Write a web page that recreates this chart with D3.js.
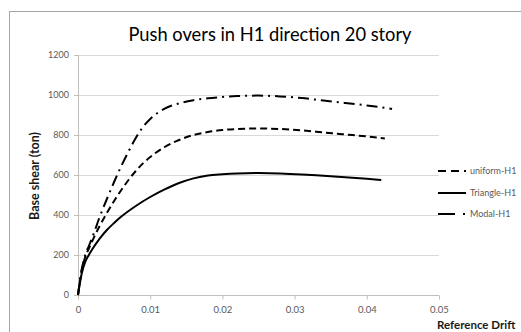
<!DOCTYPE html>
<html>
<head>
<meta charset="utf-8">
<script src="https://cdn.jsdelivr.net/npm/d3@7"></script>
<style>
  html, body { margin: 0; padding: 0; background: #fff; }
  svg { display: block; }
</style>
</head>
<body>
<svg id="chart" width="521" height="332"></svg>
<script>
// Pushover curves: drift vs base shear (ton)
const uniformDrift = [0, 0.0005, 0.001, 0.0015, 0.002, 0.003, 0.004, 0.005, 0.006, 0.007, 0.008, 0.009, 0.01, 0.012, 0.014, 0.016, 0.018, 0.02, 0.022, 0.025, 0.028, 0.031, 0.034, 0.037, 0.040, 0.0425];
const uniformShear = [0, 120, 190, 232, 272, 345, 410, 470, 525, 575, 620, 658, 690, 740, 775, 800, 815, 825, 830, 833, 830, 823, 813, 803, 793, 783];

const triangleDrift = [0, 0.0005, 0.001, 0.0015, 0.002, 0.003, 0.004, 0.005, 0.006, 0.008, 0.01, 0.012, 0.014, 0.016, 0.018, 0.02, 0.022, 0.025, 0.028, 0.031, 0.034, 0.037, 0.040, 0.042];
const triangleShear = [0, 105, 165, 200, 230, 282, 325, 360, 392, 445, 490, 528, 560, 583, 598, 604, 608, 610, 608, 603, 596, 589, 581, 575];

const modalDrift = [0, 0.0005, 0.001, 0.0015, 0.002, 0.003, 0.004, 0.005, 0.006, 0.007, 0.008, 0.009, 0.01, 0.011, 0.012, 0.014, 0.016, 0.018, 0.02, 0.022, 0.025, 0.028, 0.031, 0.034, 0.037, 0.040, 0.0435];
const modalShear = [0, 125, 200, 245, 290, 390, 480, 565, 645, 718, 785, 840, 880, 910, 932, 958, 974, 984, 990, 995, 997, 993, 985, 972, 960, 948, 930];

const seriesNames = ["uniform-H1", "Triangle-H1", "Modal-H1"];
const xTicks = [0, 0.01, 0.02, 0.03, 0.04, 0.05];
const xTickLabels = ["0", "0.01", "0.02", "0.03", "0.04", "0.05"];
const yTicks = [0, 200, 400, 600, 800, 1000, 1200];

const series = [
  { name: seriesNames[0], x: uniformDrift, y: uniformShear, dash: "7,4" },
  { name: seriesNames[1], x: triangleDrift, y: triangleShear, dash: null },
  { name: seriesNames[2], x: modalDrift, y: modalShear, dash: "11,5,2,5" }
];

const svg = d3.select("#chart");
const font = "Lato, 'Open Sans', sans-serif";

// chart frame (extends past the right and bottom edges)
svg.append("rect")
  .attr("x", 9.5).attr("y", 11.5)
  .attr("width", 700).attr("height", 500)
  .attr("fill", "#fff").attr("stroke", "#a6a6a6").attr("stroke-width", 1);

const x = d3.scaleLinear().domain([0, 0.05]).range([78, 439]);
const y = d3.scaleLinear().domain([0, 1200]).range([295, 55]);

// horizontal gridlines
svg.append("g")
  .selectAll("line")
  .data(yTicks.filter(d => d > 0))
  .join("line")
  .attr("x1", x(0)).attr("x2", x(0.05))
  .attr("y1", d => Math.round(y(d)) + 0.5).attr("y2", d => Math.round(y(d)) + 0.5)
  .attr("stroke", "#d9d9d9").attr("stroke-width", 1);

// y axis
const yAxis = d3.axisLeft(y).tickValues(yTicks).tickSize(4).tickPadding(5).tickFormat(d3.format("d"));
const gy = svg.append("g").attr("transform", `translate(${x(0)},0)`).call(yAxis);
gy.select(".domain").attr("stroke", "#bfbfbf").attr("d", `M0.5,${y(1200)}V${y(0)}`);
gy.selectAll(".tick line").attr("stroke", "#bfbfbf");
gy.selectAll(".tick text").attr("fill", "#595959").style("font-family", font).style("font-size", "9px");

// x axis
const xAxis = d3.axisBottom(x).tickValues(xTicks).tickSize(4).tickPadding(7)
  .tickFormat((d, i) => xTickLabels[i]);
const gx = svg.append("g").attr("transform", `translate(0,${Math.round(y(0)) + 0.5})`).call(xAxis);
gx.select(".domain").attr("stroke", "#bfbfbf").attr("d", `M${x(0)},0H${x(0.05)}`);
gx.selectAll(".tick line").attr("stroke", "#bfbfbf");
gx.selectAll(".tick text").attr("fill", "#595959").style("font-family", font).style("font-size", "9.5px");

// curves
const line = d3.line().curve(d3.curveMonotoneX);
series.forEach(s => {
  const pts = s.x.map((v, i) => [x(v), y(s.y[i])]);
  svg.append("path")
    .attr("d", line(pts))
    .attr("fill", "none")
    .attr("stroke", "#000")
    .attr("stroke-width", 2)
    .attr("stroke-dasharray", s.dash);
});

// title
svg.append("text")
  .attr("x", 270).attr("y", 41)
  .attr("text-anchor", "middle")
  .attr("fill", "#000")
  .style("font-family", font).style("font-size", "18.3px")
  .text("Push overs in H1 direction 20 story");

// axis titles
svg.append("text")
  .attr("transform", "translate(39,176) rotate(-90)")
  .attr("text-anchor", "middle")
  .attr("fill", "#1a1a1a")
  .style("font-family", font).style("font-size", "12.5px").style("font-weight", "bold")
  .text("Base shear (ton)");

svg.append("text")
  .attr("x", 437).attr("y", 329)
  .attr("fill", "#1a1a1a")
  .style("font-family", font).style("font-size", "11.5px").style("font-weight", "bold")
  .text("Reference Drift");

// legend
const legendY = [171, 193, 214];
const lg = svg.append("g");
series.forEach((s, i) => {
  lg.append("line")
    .attr("x1", 438).attr("x2", 466)
    .attr("y1", legendY[i]).attr("y2", legendY[i])
    .attr("stroke", "#000").attr("stroke-width", 2)
    .attr("stroke-dasharray", s.dash ? (i === 2 ? "17,8,2,8" : "8,5") : null);
  lg.append("text")
    .attr("x", 470).attr("y", legendY[i] + 3)
    .attr("fill", "#595959")
    .style("font-family", font).style("font-size", "9px")
    .text(s.name);
});
</script>
</body>
</html>
